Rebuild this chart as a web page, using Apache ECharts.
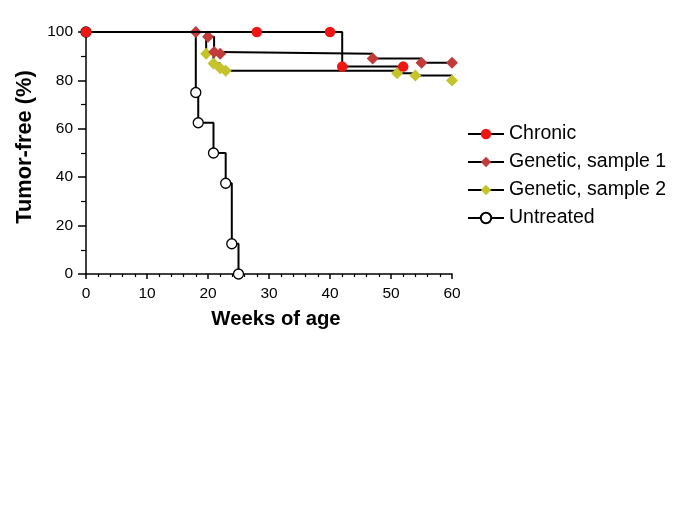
<!DOCTYPE html>
<html><head><meta charset="utf-8">
<script src="https://cdn.jsdelivr.net/npm/echarts@6/dist/echarts.min.js"></script>
<style>html,body{margin:0;padding:0;background:#fff}#c{width:685px;height:512px}</style>
</head><body><div id="c"></div>
<script>
// Data: [week, tumor-free %, showMarker]
var seriesNames = ["Chronic", "Genetic, sample 1", "Genetic, sample 2", "Untreated"];
var chronic = [[0,100,1],[28,100,1],[40,100,1],[42,85.7,1],[52,85.7,1]];
var genetic1 = [[0,100,0],[18,100,1],[20,98,1],[21,91.7,1],[22,91,1],[47,89,1],[55,87.3,1],[60,87.3,1]];
var genetic2 = [[0,100,0],[19.7,91,1],[20.9,87,1],[22,85,1],[22.9,84,1],[51,83,1],[54,82,1],[60,80,1]];
var untreated = [[0,100,1],[18,75,1],[18.4,62.5,1],[20.9,50,1],[22.9,37.5,1],[23.9,12.5,1],[25,0,1]];
var xTicks = [0,10,20,30,40,50,60];
var yTicks = [0,20,40,60,80,100];

// Build Kaplan-Meier style steps: hold previous level until next time, then drop.
function stepPts(arr){
  var out = [];
  for (var i=0;i<arr.length;i++){
    var p = arr[i];
    if (i>0){
      var q = arr[i-1];
      out.push({value:[p[0], q[1]], symbol:'none'});
    }
    out.push(p[2] ? {value:[p[0],p[1]]} : {value:[p[0],p[1]], symbol:'none'});
  }
  return out;
}
var font = '"Liberation Sans", Arial, sans-serif';
var chart = echarts.init(document.getElementById('c'), null, {renderer:'canvas'});
function mk(name, data, symbol, size, color, border, z){
  return {
    name:name, type:'line', data:stepPts(data),
    symbol:symbol, symbolSize:size, showSymbol:true, showAllSymbol:true, z:z,
    lineStyle:{color:'#000', width:2},
    itemStyle:{color:color, borderColor:border||color, borderWidth:border?1.3:0},
    emphasis:{disabled:true}, animation:false
  };
}
chart.setOption({
  animation:false,
  grid:{left:86, right:233, top:32, bottom:238, containLabel:false},
  xAxis:{
    type:'value', min:0, max:60, interval:10,
    name:'Weeks of age', nameLocation:'middle', nameGap:35,
    nameTextStyle:{fontFamily:font, fontSize:20.3, fontWeight:'bold', color:'#000', padding:[0,0,0,14]},
    axisLine:{show:true, lineStyle:{color:'#000', width:1.5}},
    axisTick:{show:true, length:5, lineStyle:{color:'#000', width:1.5}},
    minorTick:{show:true, splitNumber:5, length:3, lineStyle:{color:'#000', width:1.2}},
    axisLabel:{fontFamily:font, fontSize:15.5, color:'#000', margin:12,
      formatter:function(v){return xTicks.indexOf(v)>=0?String(v):'';}},
    splitLine:{show:false}
  },
  yAxis:{
    type:'value', min:0, max:100, interval:20,
    name:'Tumor-free (%)', nameLocation:'middle', nameGap:44, nameRotate:90,
    nameTextStyle:{fontFamily:font, fontSize:21.8, fontWeight:'bold', color:'#000', padding:[0,0,0,12]},
    axisLine:{show:true, lineStyle:{color:'#000', width:1.5}},
    axisTick:{show:true, length:8, lineStyle:{color:'#000', width:1.5}},
    minorTick:{show:true, splitNumber:2, length:5, lineStyle:{color:'#000', width:1.2}},
    axisLabel:{fontFamily:font, fontSize:15.5, color:'#000', margin:13,
      formatter:function(v){return yTicks.indexOf(v)>=0?String(v):'';}},
    splitLine:{show:false}
  },
  legend:{
    orient:'vertical', left:467, top:124, padding:0,
    itemWidth:36, itemHeight:13, itemGap:8,
    textStyle:{fontFamily:font, fontSize:19.5, color:'#000', lineHeight:20},
    data:seriesNames
  },
  series:[
    mk(seriesNames[3], untreated, 'circle', 10, '#fff', '#000', 2),
    mk(seriesNames[2], genetic2, 'diamond', 12, '#c4c42a', null, 3),
    mk(seriesNames[1], genetic1, 'diamond', 12, '#c13b3b', null, 4),
    mk(seriesNames[0], chronic, 'circle', 10.5, '#f01414', null, 5)
  ]
});
</script></body></html>
